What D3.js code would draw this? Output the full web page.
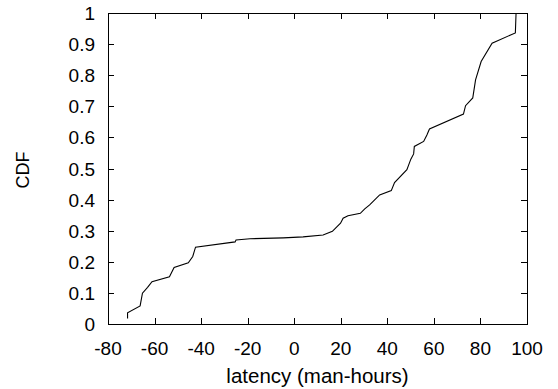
<!DOCTYPE html>
<html><head><meta charset="utf-8">
<script src="https://cdn.jsdelivr.net/npm/d3@7"></script>
<style>
body{margin:0;background:#fff;}
text{font-family:"Liberation Sans",Arial,sans-serif;fill:#000;}
</style></head>
<body><svg id="c" width="558" height="389"></svg>
<script>
const latency = [-71.6,-71.6,-66.2,-65.2,-63.0,-61.1,-53.6,-51.6,-45.5,-43.6,-42.4,-25.4,-25.0,-19.0,-4.7,3.8,12.4,16.4,18.4,19.9,21.0,23.1,28.4,30.3,32.4,36.7,41.7,43.1,48.4,50.1,51.3,51.6,55.6,57.0,58.1,72.7,73.6,76.7,77.9,80.3,85.0,95.0,95.3];
const cdf = [0.018,0.036,0.058,0.099,0.118,0.136,0.152,0.182,0.197,0.217,0.247,0.264,0.270,0.274,0.277,0.280,0.286,0.298,0.313,0.324,0.340,0.348,0.356,0.370,0.383,0.415,0.429,0.455,0.496,0.530,0.547,0.571,0.587,0.608,0.627,0.675,0.702,0.727,0.785,0.844,0.903,0.936,1.0];
const xTicks = [-80,-60,-40,-20,0,20,40,60,80,100];
const yTicks = [0,0.1,0.2,0.3,0.4,0.5,0.6,0.7,0.8,0.9,1];

const L=108, R=527, T=13, B=324;
const svg = d3.select("#c");
const x = d3.scaleLinear().domain([-80,100]).range([L,R]);
const y = d3.scaleLinear().domain([0,1]).range([B,T]);
const fs = 19, tl = 6;

const g = svg.append("g");
const ax = g.append("g").attr("stroke","#000").attr("stroke-width",1).attr("shape-rendering","crispEdges");
xTicks.forEach(v=>{
  const px = Math.round(x(v))+0.5;
  ax.append("line").attr("x1",px).attr("x2",px).attr("y1",B).attr("y2",B-tl);
  ax.append("line").attr("x1",px).attr("x2",px).attr("y1",T).attr("y2",T+tl);
});
yTicks.forEach(v=>{
  const py = Math.round(y(v))+0.5;
  ax.append("line").attr("x1",L).attr("x2",L+tl).attr("y1",py).attr("y2",py);
  ax.append("line").attr("x1",R).attr("x2",R-tl).attr("y1",py).attr("y2",py);
});
ax.append("rect").attr("x",L+0.5).attr("y",T+0.5).attr("width",R-L).attr("height",B-T).attr("fill","none");

g.selectAll(".xl").data(xTicks).enter().append("text")
  .attr("x",d=>x(d)).attr("y",355).attr("text-anchor","middle").attr("font-size",fs).text(d=>d);
g.selectAll(".yl").data(yTicks).enter().append("text")
  .attr("x",95).attr("y",d=>y(d)+7).attr("text-anchor","end").attr("font-size",fs).text(d=>d);
g.append("text").attr("x",(L+R)/2).attr("y",383).attr("text-anchor","middle").attr("font-size",20.5).text("latency (man-hours)");
g.append("text").attr("transform","translate(28.5,170) rotate(-90)").attr("text-anchor","middle").attr("font-size",18).text("CDF");

const line = d3.line().x(d=>x(d[0])).y(d=>y(d[1]));
g.append("path").datum(latency.map((v,i)=>[v,cdf[i]]))
  .attr("d",line).attr("fill","none").attr("stroke","#000").attr("stroke-width",1.1);
</script></body></html>
